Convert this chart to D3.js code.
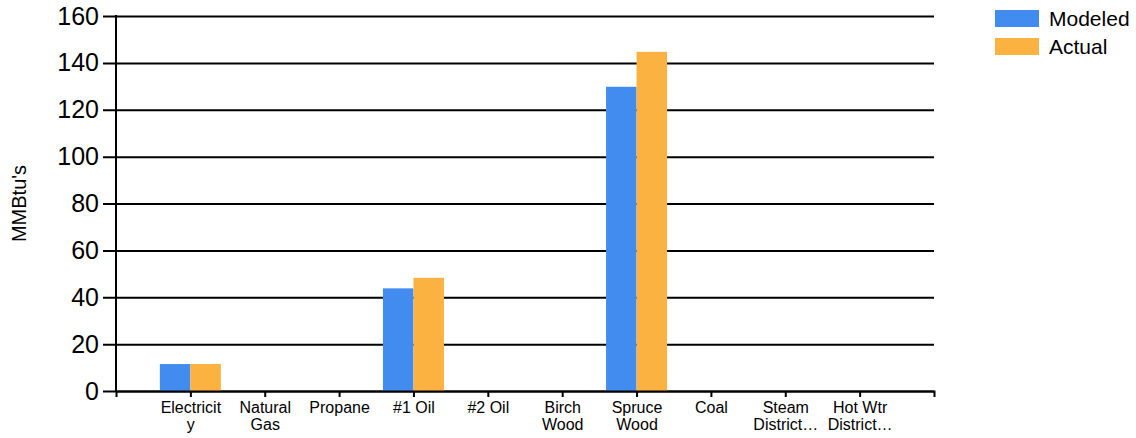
<!DOCTYPE html>
<html>
<head>
<meta charset="utf-8">
<script src="https://cdn.jsdelivr.net/npm/d3@7"></script>
<style>
  body { margin: 0; background: #fff; }
  svg { display: block; font-family: "Liberation Sans", Arial, sans-serif; }
</style>
</head>
<body>
<svg id="chart" width="1136" height="438"></svg>
<script>
const categories = ["Electricity", "Natural Gas", "Propane", "#1 Oil", "#2 Oil", "Birch Wood", "Spruce Wood", "Coal", "Steam District", "Hot Wtr District"];
const tickLabelLines = [["Electricit", "y"], ["Natural", "Gas"], ["Propane"], ["#1 Oil"], ["#2 Oil"], ["Birch", "Wood"], ["Spruce", "Wood"], ["Coal"], ["Steam", "District…"], ["Hot Wtr", "District…"]];
const seriesNames = ["Modeled", "Actual"];
const modeled = [11.5, 0, 0, 43.8, 0, 0, 129.8, 0, 0, 0];
const actual = [11.5, 0, 0, 48.3, 0, 0, 144.7, 0, 0, 0];
const yTicks = [0, 20, 40, 60, 80, 100, 120, 140, 160];
const colors = ["#428cef", "#fbb241"];

(function () {
const svg = d3.select("#chart");
const mLeft = 116, mRight = 934, mTop = 16, mBottom = 391;

const x = d3.scalePoint().domain(categories).range([mLeft, mRight]).padding(1);
const y = d3.scaleLinear().domain([0, 160]).range([mBottom, mTop]);
const xSub = d3.scaleBand().domain(seriesNames).range([-30.5, 30.5]);
const color = d3.scaleOrdinal().domain(seriesNames).range(colors);

// gridlines + y ticks
const yAxis = d3.axisLeft(y).tickValues(yTicks).tickSize(13).tickPadding(4).tickSizeOuter(0);
const gy = svg.append("g").attr("transform", `translate(${mLeft},0)`).call(yAxis);
gy.select(".domain").remove();
gy.selectAll(".tick line").attr("x2", mRight - mLeft).attr("x1", -13).attr("stroke", "#000").attr("stroke-width", 2);
gy.selectAll(".tick text").attr("font-size", 25).attr("fill", "#000");

// bars
const data = categories.map((c, i) => ({ cat: c, vals: [modeled[i], actual[i]] }));
const groups = svg.append("g").selectAll("g").data(data).join("g")
  .attr("transform", d => `translate(${x(d.cat)},0)`);
groups.selectAll("rect").data(d => d.vals.map((v, j) => ({ s: seriesNames[j], v })).filter(e => e.v > 0))
  .join("rect")
  .attr("x", d => xSub(d.s))
  .attr("width", xSub.bandwidth())
  .attr("y", d => y(d.v))
  .attr("height", d => y(0) - y(d.v))
  .attr("fill", d => color(d.s));

// x axis
const xAxis = d3.axisBottom(x).tickSize(6).tickSizeOuter(6).tickFormat("");
const gx = svg.append("g").attr("transform", `translate(0,${mBottom})`).call(xAxis);
gx.select(".domain").attr("stroke", "#000").attr("stroke-width", 2);
gx.selectAll(".tick line").attr("stroke", "#000").attr("stroke-width", 2);
gx.selectAll(".tick").each(function(d, i) {
  const t = d3.select(this).append("text").attr("fill", "#000").attr("font-size", 16).attr("text-anchor", "middle");
  tickLabelLines[i].forEach((line, k) => {
    t.append("tspan").attr("x", 0).attr("y", 22 + k * 17).text(line);
  });
});

// y axis line
svg.append("line").attr("x1", mLeft).attr("x2", mLeft).attr("y1", mTop - 1).attr("y2", mBottom)
  .attr("stroke", "#000").attr("stroke-width", 2);

// y label
svg.append("text").attr("transform", "translate(26,203.5) rotate(-90)")
  .attr("text-anchor", "middle").attr("font-size", 20).attr("fill", "#000").text("MMBtu's");

// legend
const lg = svg.append("g").attr("transform", "translate(995,10)");
seriesNames.forEach((s, i) => {
  lg.append("rect").attr("x", 0).attr("y", i * 28).attr("width", 44).attr("height", 17).attr("fill", color(s));
  lg.append("text").attr("x", 54).attr("y", i * 28 + 8.5).attr("dy", "0.35em").attr("font-size", 21).attr("fill", "#000").text(s);
});
})();
</script>
</body>
</html>
